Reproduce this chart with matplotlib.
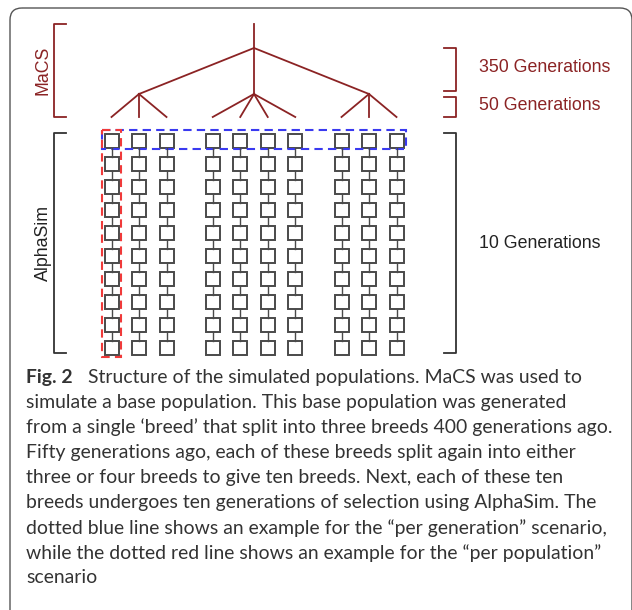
import matplotlib.pyplot as plt
from matplotlib.patches import Rectangle, FancyBboxPatch

# data
breeds_per_split = [3, 4, 3]          # breeds coming out of each of the 3 first splits
n_generations = 10                     # AlphaSim generations
macs_label = 'MaCS'
alphasim_label = 'AlphaSim'
gen_labels = ['350 Generations', '50 Generations', '10 Generations']
caption_bold = 'Fig. 2'
caption_lines = [
    'Structure of the simulated populations. MaCS was used to',
    'simulate a base population. This base population was generated',
    'from a single \u2018breed\u2019 that split into three breeds 400 generations ago.',
    'Fifty generations ago, each of these breeds split again into either',
    'three or four breeds to give ten breeds. Next, each of these ten',
    'breeds undergoes ten generations of selection using AlphaSim. The',
    'dotted blue line shows an example for the \u201cper generation\u201d scenario,',
    'while the dotted red line shows an example for the \u201cper population\u201d',
    'scenario',
]

# colours
dark_red = '#8b2324'
box_col = '#4a4a4a'
blue = '#3a3af0'
red = '#f03a3a'

# layout (pixel coordinates)
W, H = 632, 610
root_x, root_top, split_y = 254, 24, 48
sub_y, leaf_y = 94, 117
group_gap, leaf_gap = 115, 27.5
row0, row_gap, bs = 140.5, 23, 14

fig = plt.figure(figsize=(W / 100, H / 100), dpi=100)
ax = fig.add_axes([0, 0, 1, 1])
ax.set_xlim(0, W)
ax.set_ylim(H, 0)
ax.axis('off')

# frame
ax.add_patch(FancyBboxPatch((10, 8), 622, 615, boxstyle='round,pad=0,rounding_size=12',
                            fc='none', ec='#555555', lw=1.0, clip_on=False))

# tree
ax.plot([root_x, root_x], [root_top, split_y], color=dark_red, lw=1.3)
n_groups = len(breeds_per_split)
cols = []
for g, nb in enumerate(breeds_per_split):
    gx = root_x + (g - (n_groups - 1) / 2) * group_gap
    ax.plot([root_x, gx], [split_y, sub_y], color=dark_red, lw=1.3)
    for j in range(nb):
        lx = gx + (j - (nb - 1) / 2) * leaf_gap
        ax.plot([gx, lx], [sub_y, leaf_y], color=dark_red, lw=1.3)
        cols.append(lx)

# boxes
for cx in cols:
    for r in range(n_generations):
        cy = row0 + r * row_gap
        ax.add_patch(Rectangle((cx - bs / 2, cy - bs / 2), bs, bs, fc='white', ec=box_col, lw=1.4))
        if r < n_generations - 1:
            ax.plot([cx, cx], [cy + bs / 2, cy + row_gap - bs / 2], color=box_col, lw=1.0)

# dashed highlights
ax.add_patch(Rectangle((102, 130), 304, 19, fc='none', ec=blue, lw=1.5, ls=(0, (4, 2.5))))
ax.add_patch(Rectangle((102, 130), 19, 227, fc='none', ec=red, lw=1.5, ls=(0, (4, 2.5))))

# brackets
def bracket(x, y0, y1, side, color):
    dx = 12 if side == 'left' else -12
    ax.plot([x + dx, x, x, x + dx], [y0, y0, y1, y1], color=color, lw=1.3)

bracket(54, 24, 117, 'left', dark_red)
bracket(54, 133, 353, 'left', '#333333')
bracket(456, 48, 91, 'right', dark_red)
bracket(456, 97, 117, 'right', dark_red)
bracket(456, 133, 353, 'right', '#333333')

lab_font = dict(family='Liberation Sans', fontsize=12.8)
ax.text(43, 70, macs_label, rotation=90, ha='center', va='center', color=dark_red, **lab_font)
ax.text(43, 243, alphasim_label, rotation=90, ha='center', va='center', color='#222222', **lab_font)
ax.text(479, 68, gen_labels[0], ha='left', va='center', color=dark_red, **lab_font)
ax.text(479, 105, gen_labels[1], ha='left', va='center', color=dark_red, **lab_font)
ax.text(479, 243, gen_labels[2], ha='left', va='center', color='#222222', **lab_font)

# caption
cap_font = dict(family='Lato', fontsize=13.95, color='#333333')
y0, pitch = 377, 25.1
ax.text(26, y0, caption_bold, ha='left', va='center', fontweight='bold', **cap_font)
for i, line in enumerate(caption_lines):
    x = 88 if i == 0 else 26
    ax.text(x, y0 + i * pitch, line, ha='left', va='center', **cap_font)

fig.savefig('out.png', dpi=100)
